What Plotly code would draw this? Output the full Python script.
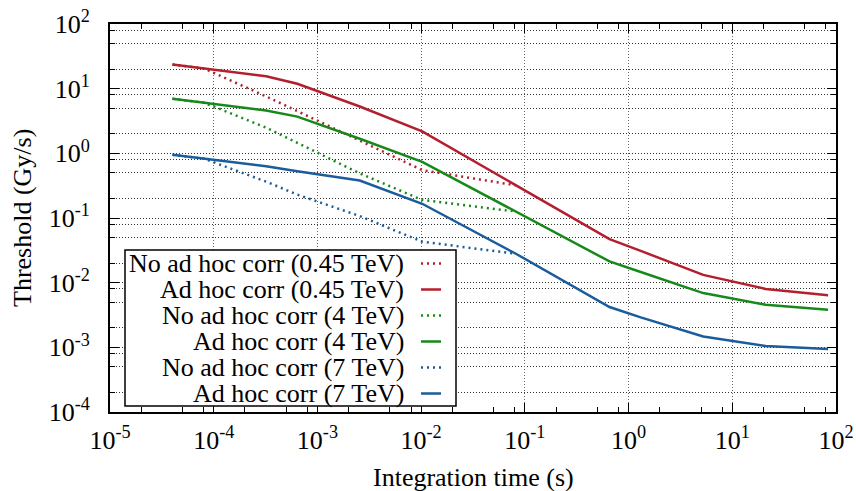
import plotly.graph_objects as go

# ---------------- data ----------------
times = [4e-5, 8e-5, 3.2e-4, 6.4e-4, 2.56e-3, 1.024e-2, 8.192e-2, 0.655, 1.31, 5.24, 20.97, 83.89]
times_noadhoc = times[:7]

adhoc_045 = [23.6, 20.6, 15.6, 11.9, 5.3, 2.19, 0.32, 0.047, 0.031, 0.0132, 0.0080, 0.0064]
noadhoc_045 = [23.6, 20.6, 7.6, 4.5, 1.56, 0.55, 0.32]
adhoc_4 = [7.0, 6.1, 4.6, 3.7, 1.68, 0.74, 0.126, 0.0213, 0.0146, 0.0069, 0.00455, 0.0038]
noadhoc_4 = [7.0, 6.1, 2.5, 1.45, 0.49, 0.19, 0.126]
adhoc_7 = [0.95, 0.83, 0.63, 0.53, 0.38, 0.166, 0.028, 0.0042, 0.0029, 0.00147, 0.00105, 0.00094]
noadhoc_7 = [0.95, 0.83, 0.365, 0.23, 0.107, 0.043, 0.028]

series_names = [
    "No ad hoc corr (0.45 TeV)",
    "Ad hoc corr (0.45 TeV)",
    "No ad hoc corr (4 TeV)",
    "Ad hoc corr (4 TeV)",
    "No ad hoc corr (7 TeV)",
    "Ad hoc corr (7 TeV)",
]
x_title = "Integration time (s)"
y_title = "Threshold (Gy/s)"
x_tick_exps = [-5, -4, -3, -2, -1, 0, 1, 2]
y_tick_exps = [-4, -3, -2, -1, 0, 1, 2]

RED = "#b41f2d"
GREEN = "#17891b"
BLUE = "#1b5c9c"
DOT = "2px,4px"
FONT = "Liberation Serif"
FS = 26

series = [
    (times_noadhoc, noadhoc_045, RED, DOT),
    (times, adhoc_045, RED, "solid"),
    (times_noadhoc, noadhoc_4, GREEN, DOT),
    (times, adhoc_4, GREEN, "solid"),
    (times_noadhoc, noadhoc_7, BLUE, DOT),
    (times, adhoc_7, BLUE, "solid"),
]

fig = go.Figure()
for name, (xs, ys, col, dash) in zip(series_names, series):
    fig.add_trace(go.Scatter(x=xs, y=ys, mode="lines", name=name,
                             line=dict(color=col, width=2.5, dash=dash),
                             showlegend=False))

W, H = 856, 491
L, R, T, B = 110, 20, 24, 79
PW, PH = W - L - R, H - T - B


def px(page_x):
    return (page_x - L) / PW


def py(page_y):
    return (T + PH - page_y) / PH


minor_x = [m * 10 ** e for e in range(-5, 2) for m in (2, 5, 8)]
minor_y = [m * 10 ** e for e in range(-4, 2) for m in (2, 5, 8)]

fig.update_xaxes(
    type="log", range=[-5, 2], automargin=False,
    tickmode="array", tickvals=[10 ** e for e in x_tick_exps],
    ticktext=[f"10<sup>{e}</sup>" for e in x_tick_exps],
    ticks="inside", ticklen=9, tickwidth=1, tickcolor="black",
    mirror="allticks", showline=True, linecolor="black", linewidth=2,
    showgrid=True, gridcolor="#666666", griddash="1px,2px", gridwidth=1,
    minor=dict(tickvals=minor_x, ticks="inside", ticklen=5, tickcolor="black", showgrid=False),
    tickfont=dict(family=FONT, size=FS, color="black"),
    ticklabelstandoff=4, ticklabeloverflow="allow",
    zeroline=False,
)
fig.update_yaxes(
    type="log", range=[-4, 2], automargin=False,
    tickmode="array", tickvals=[10 ** e for e in y_tick_exps],
    ticktext=[f"10<sup>{e}</sup>" for e in y_tick_exps],
    ticks="inside", ticklen=9, tickwidth=1, tickcolor="black",
    mirror="allticks", showline=True, linecolor="black", linewidth=2,
    showgrid=True, gridcolor="#333333", griddash="1px,2px", gridwidth=1,
    minor=dict(tickvals=minor_y, ticks="inside", ticklen=5, tickcolor="black",
               showgrid=True, gridcolor="#333333", griddash="1px,2px", gridwidth=1),
    tickfont=dict(family=FONT, size=FS, color="black"),
    ticklabelstandoff=13, ticklabeloverflow="allow",
    zeroline=False,
)

# custom gnuplot-style key (text right-aligned, sample on the right)
shapes = [dict(type="rect", xref="paper", yref="paper",
               x0=px(125), x1=px(456), y0=py(406), y1=py(250),
               fillcolor="white", line=dict(color="black", width=1.5), layer="above")]
annotations = []
row_y = [263.5, 289.5, 315.5, 341.5, 367.5, 393.5]
for name, (xs, ys, col, dash), yy in zip(series_names, series, row_y):
    shapes.append(dict(type="line", xref="paper", yref="paper",
                       x0=px(421), x1=px(441), y0=py(yy), y1=py(yy),
                       line=dict(color=col, width=2.5, dash=dash), layer="above"))
    annotations.append(dict(xref="paper", yref="paper", x=px(406), y=py(yy),
                            text=name, showarrow=False, xanchor="right", yanchor="middle",
                            font=dict(family=FONT, size=FS, color="black")))

# axis titles
annotations.append(dict(xref="paper", yref="paper", x=px(473), y=py(477),
                        text=x_title, showarrow=False, xanchor="center", yanchor="middle",
                        font=dict(family=FONT, size=FS, color="black")))
annotations.append(dict(xref="paper", yref="paper", x=px(22), y=py(218),
                        text=y_title, showarrow=False, xanchor="center", yanchor="middle",
                        textangle=-90, font=dict(family=FONT, size=FS, color="black")))

fig.update_layout(
    width=W, height=H,
    margin=dict(l=L, r=R, t=T, b=B, autoexpand=False),
    paper_bgcolor="white", plot_bgcolor="white",
    shapes=shapes, annotations=annotations,
    showlegend=False,
)

# remove the browser's default 8px body margin so the figure sits at (0, 0)
fig.write_html("out.html",
               config={"displayModeBar": False},
               post_script="document.body.style.margin='0';document.body.style.overflow='hidden';")
